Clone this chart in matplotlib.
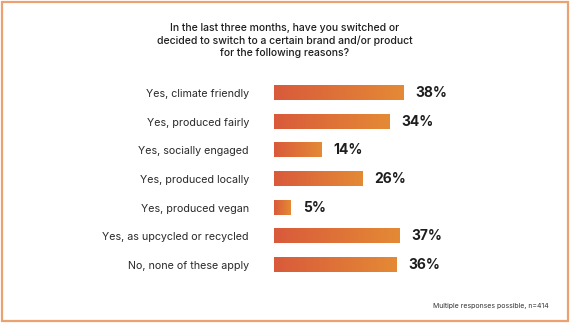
import matplotlib.pyplot as plt
import matplotlib.patches as mpatches
from matplotlib.colors import LinearSegmentedColormap
import numpy as np

# ── Data ──────────────────────────────────────────────────────────────────────
categories = [
    "Yes, climate friendly",
    "Yes, produced fairly",
    "Yes, socially engaged",
    "Yes, produced locally",
    "Yes, produced vegan",
    "Yes, as upcycled or recycled",
    "No, none of these apply",
]
values = [38, 34, 14, 26, 5, 37, 36]
value_labels = ["38%", "34%", "14%", "26%", "5%", "37%", "36%"]

TITLE = ("In the last three months, have you switched or\n"
         "decided to switch to a certain brand and/or product\n"
         "for the following reasons?")
NOTE = "Multiple responses possible, n=414"

# ── Style ─────────────────────────────────────────────────────────────────────
COLOR_LEFT = "#D95A3B"
COLOR_RIGHT = "#E48A35"
COLOR_BORDER = "#EBA270"
COLOR_TEXT = "#1E1E1E"
FONT = "Inter"

plt.rcParams["font.family"] = [FONT, "DejaVu Sans"]

fig = plt.figure(figsize=(5.7, 3.23), dpi=100)
fig.patch.set_facecolor("white")

ax = fig.add_axes([0.4807, 0.135, 0.298, 0.622])
cmap = LinearSegmentedColormap.from_list("bar", [COLOR_LEFT, COLOR_RIGHT])
grad = np.linspace(0, 1, 256).reshape(1, -1)

bar_h = 0.49
for i, v in enumerate(values):
    ax.imshow(grad, cmap=cmap, aspect="auto",
              extent=(0, v, i + bar_h / 2, i - bar_h / 2), zorder=2)
    ax.annotate(value_labels[i], xy=(v, i), xytext=(8.5, 0),
                textcoords="offset points", ha="left", va="center",
                fontsize=10, fontweight="bold", color=COLOR_TEXT)

ax.set_xlim(0, 50)
ax.set_ylim(len(values) - 0.5, -0.5)
ax.set_yticks(range(len(categories)))
ax.set_yticklabels(categories, fontsize=7.7, color="#2A2A2A")
ax.tick_params(axis="y", length=0, pad=18)
ax.set_xticks([])
for s in ax.spines.values():
    s.set_visible(False)
ax.patch.set_alpha(0)

fig.text(0.5, 0.928, TITLE, ha="center", va="top", fontsize=7.5,
         fontweight="medium", color=COLOR_TEXT, linespacing=1.25)
fig.text(0.963, 0.052, NOTE, ha="right", va="center", fontsize=5.0,
         color="#333333")

# ── Frame ─────────────────────────────────────────────────────────────────────
fig.patches.append(mpatches.Rectangle((0.003, 0.005), 0.994, 0.99,
                                      transform=fig.transFigure, fill=False,
                                      edgecolor=COLOR_BORDER, linewidth=1.6))

fig.savefig("out.png", dpi=100, facecolor="white")
